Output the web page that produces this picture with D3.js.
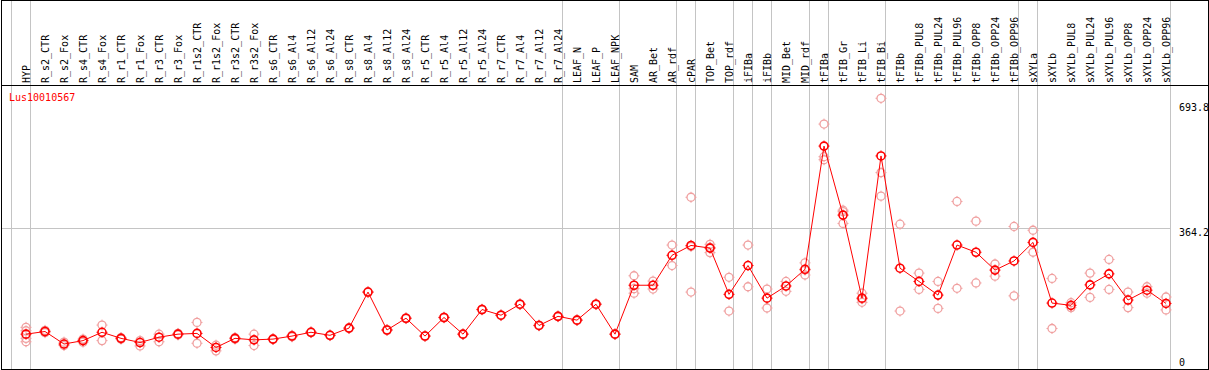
<!DOCTYPE html>
<html>
<head>
<meta charset="utf-8">
<script src="https://cdn.jsdelivr.net/npm/d3@7/dist/d3.min.js"></script>
<style>
  html, body { margin: 0; padding: 0; background: #fff; }
  svg { display: block; }
</style>
</head>
<body>
<div id="chart"></div>
<script>
const geneId = "Lus10010567";

const categories = [
  "HYP", "R_s2_CTR", "R_s2_Fox", "R_s4_CTR", "R_s4_Fox", "R_r1_CTR", "R_r1_Fox", "R_r3_CTR", "R_r3_Fox",
  "R_r1s2_CTR", "R_r1s2_Fox", "R_r3s2_CTR", "R_r3s2_Fox", "R_s6_CTR", "R_s6_Al4", "R_s6_Al12", "R_s6_Al24",
  "R_s8_CTR", "R_s8_Al4", "R_s8_Al12", "R_s8_Al24", "R_r5_CTR", "R_r5_Al4", "R_r5_Al12", "R_r5_Al24",
  "R_r7_CTR", "R_r7_Al4", "R_r7_Al12", "R_r7_Al24", "LEAF_N", "LEAF_P", "LEAF_NPK", "SAM", "AR_Bet", "AR_rdf",
  "cPAR", "TOP_Bet", "TOP_rdf", "iFIBa", "iFIBb", "MID_Bet", "MID_rdf", "tFIBa", "tFIB_Gr", "tFIB_Li", "tFIB_Bi",
  "tFIBb", "tFIBb_PUL8", "tFIBb_PUL24", "tFIBb_PUL96", "tFIBb_OPP8", "tFIBb_OPP24", "tFIBb_OPP96",
  "sXYLa", "sXYLb", "sXYLb_PUL8", "sXYLb_PUL24", "sXYLb_PUL96", "sXYLb_OPP8", "sXYLb_OPP24", "sXYLb_OPP96"
];

// mean expression per sample
const means = [
  85, 92, 59, 68, 90, 74, 63, 77, 85,
  87, 50, 74, 70, 72, 80, 90, 82,
  101, 196, 96, 127, 80, 129, 85, 150,
  135, 164, 108, 132, 122, 164, 85, 214, 214, 293,
  319, 312, 190, 266, 180, 212, 256, 581, 399, 180, 555,
  259, 224, 188, 320, 301, 254, 278,
  327, 167, 161, 215, 244, 175, 201, 166
];

// individual replicates per sample
const replicates = [
  [103, 94, 74, 65], [95, 89], [64, 55], [72, 64], [109, 68], [76, 72], [68, 54], [85, 65], [87, 83],
  [116, 61], [56, 41], [76, 72], [85, 55], [73, 71], [82, 78], [91, 89], [83, 81],
  [102, 100], [197, 195], [97, 95], [128, 126], [81, 79], [130, 128], [86, 84], [151, 149],
  [136, 134], [165, 163], [109, 107], [133, 131], [123, 121], [165, 163], [86, 84],
  [239, 205, 193], [225, 204], [320, 266],
  [446, 196, 316], [322, 300, 314], [235, 146], [320, 210], [204, 154], [224, 198], [273, 241, 254],
  [639, 553, 545], [412, 408, 377], [193, 169, 178], [707, 511, 449],
  [375, 146], [246, 203], [224, 153], [435, 206], [383, 220], [270, 238], [369, 186],
  [359, 301], [232, 100], [168, 155], [246, 182], [282, 203], [196, 155], [210, 193], [183, 149]
];

// a separator line is drawn after each of these samples
const groupEnds = [
  "HYP", "R_r7_Al24", "LEAF_NPK", "AR_rdf", "cPAR", "TOP_rdf", "iFIBa", "iFIBb",
  "MID_rdf", "tFIBa", "tFIB_Bi", "tFIBb_OPP96", "sXYLa", "sXYLb_OPP96"
];

const yTickValues = [0, 364.2, 693.8];
const yGridValues = [364.2];

const width = 1209;
const height = 370;
const headerBottom = 85.5;

const svg = d3.select("#chart").append("svg")
  .attr("width", width)
  .attr("height", height);

const x = d3.scaleBand()
  .domain(categories)
  .range([16.5, 1175.5]);

const cx = d => x(d) + x.bandwidth() / 2;

const y = d3.scaleLinear()
  .domain([0, 693.8])
  .range([366.4, 103.3]);

const font = "'DejaVu Sans Mono', monospace";

// group separators
const sepX = [cx(categories[0]) - x.step() + 4.5].concat(groupEnds.map(d => cx(d) + 4.5));
svg.append("g")
  .attr("stroke", "#c4c4c4")
  .attr("stroke-width", 1)
  .selectAll("line")
  .data(sepX)
  .join("line")
  .attr("x1", d => d)
  .attr("x2", d => d)
  .attr("y1", 0)
  .attr("y2", height);

// horizontal grid
svg.append("g")
  .attr("stroke", "#c4c4c4")
  .selectAll("line")
  .data(yGridValues)
  .join("line")
  .attr("x1", 1.5)
  .attr("x2", sepX[sepX.length - 1])
  .attr("y1", d => Math.round(y(d)) + 0.5)
  .attr("y2", d => Math.round(y(d)) + 0.5);

// frame and header line
svg.append("rect")
  .attr("x", 1.5)
  .attr("y", 0.5)
  .attr("width", 1207)
  .attr("height", 369)
  .attr("fill", "none")
  .attr("stroke", "#000");

svg.append("line")
  .attr("x1", 1.5)
  .attr("x2", 1208.5)
  .attr("y1", headerBottom)
  .attr("y2", headerBottom)
  .attr("stroke", "#000");

// sample labels, rotated
svg.append("g")
  .selectAll("text")
  .data(categories)
  .join("text")
  .attr("transform", d => `translate(${cx(d) + 3.5},83) rotate(-90)`)
  .attr("font-family", font)
  .attr("font-size", "10px")
  .attr("fill", "#000")
  .text(d => d);

// right axis
const yAxis = d3.axisRight(y)
  .tickValues(yTickValues)
  .tickSize(0)
  .tickPadding(0)
  .tickFormat(d => d === 0 ? "0" : d3.format(".1f")(d));

const axisG = svg.append("g")
  .attr("transform", "translate(1179,0)")
  .call(yAxis);
axisG.select(".domain").remove();
axisG.selectAll("text")
  .attr("font-family", font)
  .attr("font-size", "10px")
  .attr("fill", "#000")
  .attr("dy", null)
  .attr("y", d => Math.min(y(d) + 7.5, 365) - y(d));

// gene id
svg.append("text")
  .attr("x", 9)
  .attr("y", 100.5)
  .attr("font-family", font)
  .attr("font-size", "10px")
  .attr("fill", "#ff0000")
  .text(geneId);

function marker(sel, color, sw) {
  sel.append("circle")
    .attr("r", 4)
    .attr("fill", "none")
    .attr("stroke", color)
    .attr("stroke-width", sw);
  sel.append("path")
    .attr("d", "M0,-4V-5.5M0,4V5.5M-4,0H-5.5M4,0H5.5")
    .attr("stroke", color)
    .attr("stroke-width", 1);
}

// replicates
const repPoints = replicates.flatMap((vals, i) => vals.map(v => ({ cat: categories[i], v })));
svg.append("g")
  .selectAll("g")
  .data(repPoints)
  .join("g")
  .attr("transform", d => `translate(${cx(d.cat)},${y(d.v)})`)
  .call(marker, "#f0a0a0", 1.3);

// mean line
const line = d3.line()
  .x((d, i) => cx(categories[i]))
  .y(d => y(d));

svg.append("path")
  .datum(means)
  .attr("d", line)
  .attr("fill", "none")
  .attr("stroke", "#ff0000")
  .attr("stroke-width", 1);

// mean markers
svg.append("g")
  .selectAll("g")
  .data(means)
  .join("g")
  .attr("transform", (d, i) => `translate(${cx(categories[i])},${y(d)})`)
  .call(marker, "#ff0000", 1.6);
</script>
</body>
</html>
